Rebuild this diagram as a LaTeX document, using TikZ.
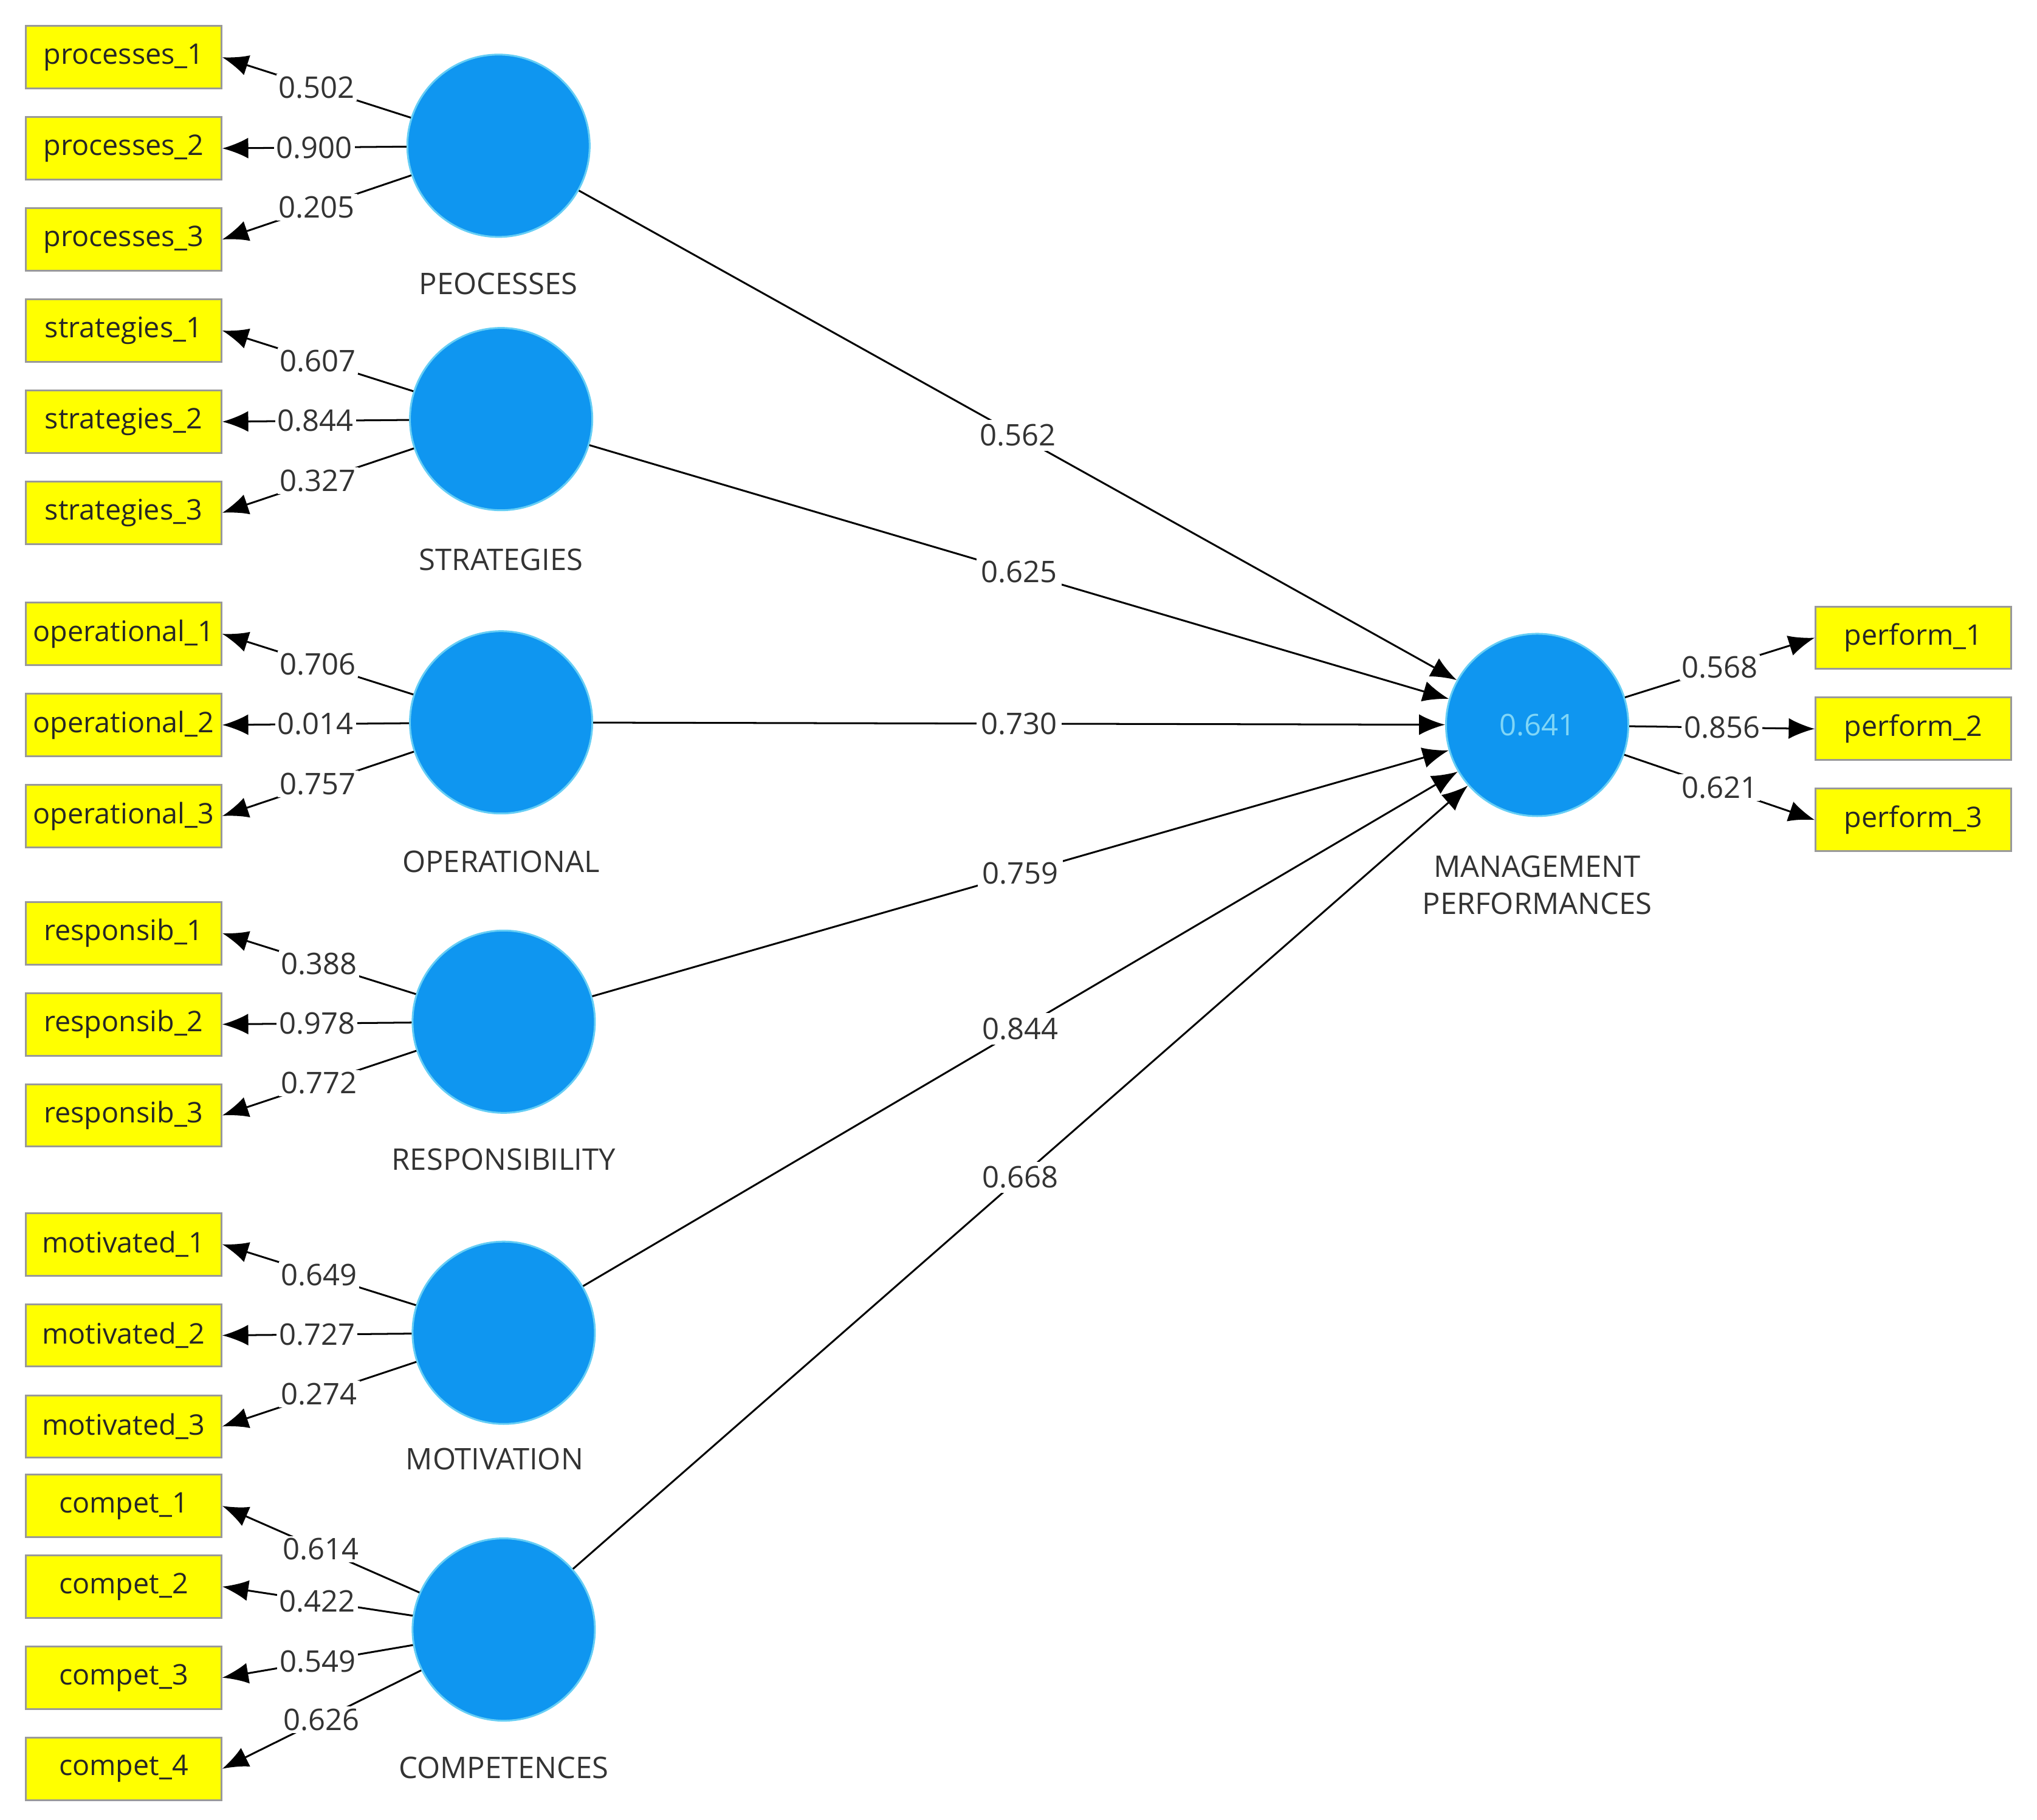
\documentclass[tikz,border=0pt]{standalone}
\usepackage{fontspec}
\setmainfont{Open Sans}
\usetikzlibrary{arrows.meta}
\definecolor{lvblue}{RGB}{15,150,240}
\definecolor{mvyellow}{RGB}{255,255,0}
\begin{document}
\begin{tikzpicture}[x=0.01cm,y=-0.01cm,
                        > = {Latex[length=2mm,width=1.6mm]},
               lv/.style = {circle, fill=lvblue, draw=cyan!60, minimum size=1.4cm, inner sep=0pt,
                            font=\fontsize{6.5}{8}\selectfont, text=cyan!50},
               mv/.style = {rectangle, fill=mvyellow, draw=black!40, minimum width=1.5cm,
                            minimum height=0.48cm, inner sep=0pt,
                            font=\fontsize{6.2}{8}\selectfont, text=black!85},
           lvname/.style = {font=\fontsize{6.5}{8}\selectfont, align=center, text=black!80},
           ldlab/.style = {fill=white, inner sep=0.5pt, font=\fontsize{6.5}{8}\selectfont, text=black!80},
           pclab/.style = {fill=white, inner sep=1pt, font=\fontsize{6.5}{8}\selectfont, text=black!80},
            ]
\useasboundingbox (0,0) rectangle (1565,1398);

% latent variables
\node[lv] (proc) at (383,112) {};
\node[lv] (strat) at (385,322) {};
\node[lv] (oper) at (385,555) {};
\node[lv] (resp) at (387,785) {};
\node[lv] (motiv) at (387,1024) {};
\node[lv] (comp) at (387,1252) {};
\node[lv] (perf) at (1181,557) {0.641};

\node[lvname] at (383,218) {PEOCESSES};
\node[lvname] at (385,430) {STRATEGIES};
\node[lvname] at (385,662) {OPERATIONAL};
\node[lvname] at (387,891) {RESPONSIBILITY};
\node[lvname] at (380,1121) {MOTIVATION};
\node[lvname] at (387,1358) {COMPETENCES};
\node[lvname] at (1181,680) {MANAGEMENT\\PERFORMANCES};

% indicators
\foreach \lvn/\ind/\y/\val in {
    proc/processes_1/44/0.502, proc/processes_2/114/0.900, proc/processes_3/184/0.205,
    strat/strategies_1/254/0.607, strat/strategies_2/324/0.844, strat/strategies_3/394/0.327,
    oper/operational_1/487/0.706, oper/operational_2/557/0.014, oper/operational_3/627/0.757,
    resp/responsib_1/717/0.388, resp/responsib_2/787/0.978, resp/responsib_3/857/0.772,
    motiv/motivated_1/956/0.649, motiv/motivated_2/1026/0.727, motiv/motivated_3/1096/0.274,
    comp/compet_1/1157/0.614, comp/compet_2/1219/0.422, comp/compet_3/1289/0.549, comp/compet_4/1359/0.626}{%
    \node[mv] (\ind) at (95,\y) {\detokenize\expandafter{\ind}};
    \draw[->] (\lvn) -- node[ldlab] {\val} (\ind.east);
}
\foreach \ind/\y/\val in {perform_1/490/0.568, perform_2/560/0.856, perform_3/630/0.621}{%
    \node[mv] (\ind) at (1470,\y) {\detokenize\expandafter{\ind}};
    \draw[->] (perf) -- node[ldlab] {\val} (\ind.west);
}

% inner model
\foreach \lvn/\val in {proc/0.562, strat/0.625, oper/0.730, resp/0.759, motiv/0.844, comp/0.668}{%
    \draw[->] (\lvn) -- node[pclab] {\val} (perf);
}
\end{tikzpicture}
\end{document}
